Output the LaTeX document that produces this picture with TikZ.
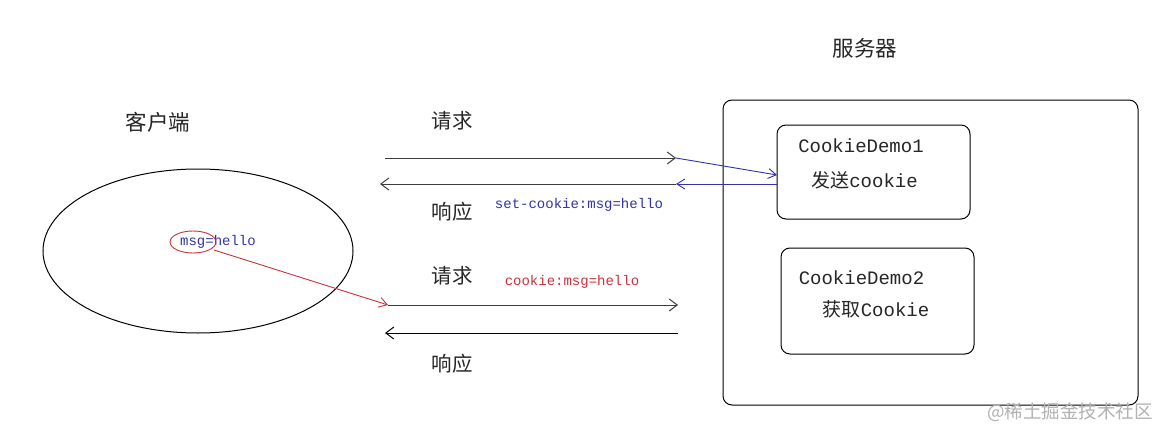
\documentclass[tikz,border=0pt]{standalone}
\usepackage{fontspec}
\setmainfont{Noto Sans CJK SC}
\newfontfamily\mono{Liberation Mono}
\newfontfamily\cjk{Noto Sans CJK SC}
\usetikzlibrary{shapes.geometric,arrows.meta}
\definecolor{lblue}{RGB}{50,50,170}
\definecolor{lred}{RGB}{200,50,60}
\definecolor{lgray}{RGB}{60,60,60}
\tikzset{
  cn/.style={font=\cjk\fontsize{20.5}{24}\selectfont, text=black!85, inner sep=0pt},
  mtext/.style={font=\mono\fontsize{14}{16}\selectfont, inner sep=0pt},
  box/.style={draw, rounded corners=9pt, line width=1pt, inner sep=0pt},
  arr/.style={-{Straight Barb[length=8pt,width=12pt]}, line width=1pt, draw=lgray},
  barr/.style={-{Straight Barb[length=8pt,width=10pt]}, line width=0.9pt, draw=lblue},
  rarr/.style={-{Straight Barb[length=8pt,width=10pt]}, line width=0.9pt, draw=lred},
}
\begin{document}
\begin{tikzpicture}[x=1pt,y=-1pt]
\useasboundingbox[fill=white] (0,0) rectangle (1160,431);
% titles
\node[cn, font=\cjk\fontsize{21.5}{24}\selectfont] (tserver) at (865,48) {服务器};
\node[cn, font=\cjk\fontsize{21.5}{24}\selectfont] (tclient) at (158,122) {客户端};
% server frame
\node[box, minimum width=415pt, minimum height=305pt] (server) at (930.5,252.5) {};
\node[box, minimum width=193pt, minimum height=94pt] (d1) at (873.5,172) {};
\node[box, minimum width=193pt, minimum height=106pt] (d2) at (877.5,301) {};
\node[font=\mono\fontsize{19}{22}\selectfont, inner sep=0pt, text=black!85] (d1a) at (861,146) {CookieDemo1};
\node[inner sep=0pt, text=black!85] (d1b) at (864.5,180) {{\cjk\fontsize{19}{22}\selectfont 发送}{\mono\fontsize{19}{22}\selectfont cookie}};
\node[font=\mono\fontsize{19}{22}\selectfont, inner sep=0pt, text=black!85] (d2a) at (861.5,278) {CookieDemo2};
\node[inner sep=0pt, text=black!85] (d2b) at (876,309) {{\cjk\fontsize{19}{22}\selectfont 获取}{\mono\fontsize{19}{22}\selectfont Cookie}};
% client
\node[ellipse, draw, line width=1pt, minimum width=310pt, minimum height=164pt, inner sep=0pt] (client) at (198,251) {};
\node[mtext, text=lblue] (msg) at (218,242) {msg=hello};
\node[ellipse, draw=lred, line width=0.9pt, minimum width=46pt, minimum height=22pt, inner sep=0pt] (msgc) at (193,242) {};
% upper exchange
\coordinate (a1s) at (385,158);
\coordinate (a1e) at (676,158);
\coordinate (b1e) at (777,175);
\coordinate (a2s) at (676,184);
\coordinate (a2e) at (380,184);
\coordinate (b2s) at (777,184);
\draw[arr] (a1s) -- (a1e);
\draw[barr] (a1e) -- (b1e);
\draw[arr] (a2s) -- (a2e);
\draw[barr] (b2s) -- (a2s);
\node[cn] (req1) at (452,121) {请求};
\node[cn] (res1) at (452,212) {响应};
\node[mtext, text=lblue] (setc) at (579,205) {set-cookie:msg=hello};
% lower exchange
\coordinate (a3s) at (388,305);
\coordinate (a3e) at (678,305);
\coordinate (a4s) at (678,333);
\coordinate (a4e) at (385,333);
\coordinate (rs) at (214,250);
\draw[arr] (a3s) -- (a3e);
\draw[arr, draw=black] (a4s) -- (a4e);
\draw[rarr] (rs) -- (a3s);
\node[cn] (req2) at (452,276) {请求};
\node[cn] (res2) at (452,364) {响应};
\node[mtext, text=lred] (ck) at (572,282) {cookie:msg=hello};
% watermark
\node[font=\cjk\fontsize{18.5}{21}\selectfont, text=black!30, inner sep=0pt] (wm) at (1070,412) {@稀土掘金技术社区};
\end{tikzpicture}
\end{document}
